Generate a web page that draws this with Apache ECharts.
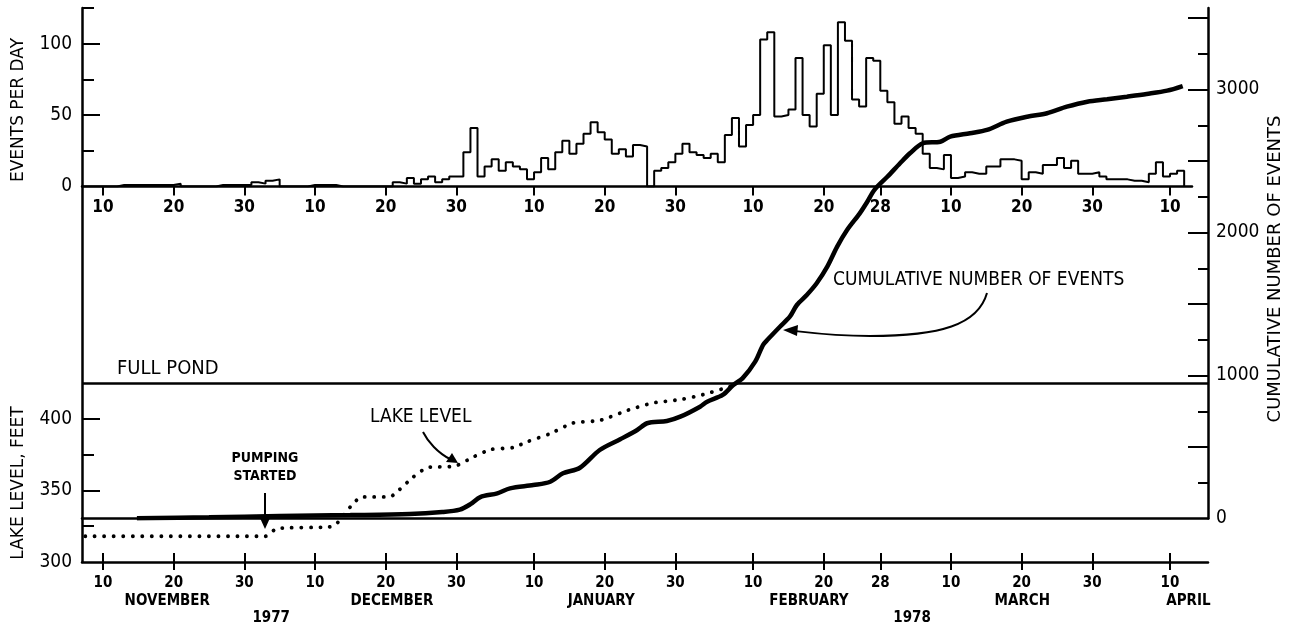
<!DOCTYPE html>
<html>
<head>
<meta charset="utf-8">
<script src="https://cdn.jsdelivr.net/npm/echarts@6/dist/echarts.min.js"></script>
<style>
html,body{margin:0;padding:0;background:#fff;}
#c{width:1292px;height:628px;}
</style>
</head>
<body>
<div id="c"></div>
<script>
// ---------------- DATA ----------------
// x unit: day number counted from Oct 31, 1977 (Nov 10 = 10, Dec 10 = 40, Jan 10 = 71, Feb 10 = 102, Mar 10 = 130, Apr 10 = 161)
const dayTicks      = [10, 20, 30, 40, 50, 60, 71, 81, 91, 102, 112, 120, 130, 140, 150, 161];
const dayTickLabels = ['10','20','30','10','20','30','10','20','30','10','20','28','10','20','30','10'];
const monthNames    = ['NOVEMBER','DECEMBER','JANUARY','FEBRUARY','MARCH','APRIL'];
const monthLabelDays= [19.1, 50.9, 80.5, 109.9, 140.1, 163.6];
const yearNames     = ['1977','1978'];
const yearLabelDays = [33.8, 124.5];

// Events per day (histogram), one value per day starting at histFirstDay
const histFirstDay = 7;
const histValues = [
  0,0,0,0,0,1,1,1,1,1,1,1,1,2,            // d7-20
  0,0,0,0,0,1,1,1,1,1,3,2,4,5,            // d21-34
  0,0,0,0,1,1,1,1,0,0,0,0,0,0,0,0,        // d35-50
  3,2,6,2,5,7,3,5,7,7,                    // d51-60
  24,41,7,14,19,11,17,14,12,5,            // d61-70
  10,20,12,24,32,23,30,37,45,38,          // d71-80
  33,23,26,21,29,28,0,11,13,17,           // d81-90
  23,30,24,22,20,23,17,36,48,28,          // d91-100
  43,50,103,108,49,50,54,90,50,42,        // d101-110
  65,99,50,115,102,61,56,90,88,67,        // d111-120
  59,44,49,41,37,23,13,12,22,6,           // d121-130
  7,10,9,9,14,14,19,19,18,5,              // d131-140
  10,9,15,15,20,13,18,9,9,10,             // d141-150
  7,5,5,5,4,4,3,9,17,7,                   // d151-160
  9,11,0                                  // d161-163
];

// Lake level (feet)
const lakeDays   = [7.5, 33, 34.6, 42, 43.1, 45, 46.6, 50.6, 51.6, 53.9, 55.9, 59.8, 62.4, 64.8, 68, 70, 73.3, 76.5, 80.3, 84.2, 87.8, 91.7, 94.9, 98.3, 99.7];
const lakeLevels = [318, 318, 323.4, 324.5, 327, 338.5, 345.5, 345.5, 349, 359.4, 366, 367, 373.4, 378.6, 380, 384, 389.8, 397.2, 399, 406, 411.2, 413.6, 417, 422, 424.3];
const fullPondLevel = 425;

// Cumulative number of events
const cumDays = [14.8, 25, 35, 45, 53.4, 58, 60.5, 62, 63.4, 65.8, 67.6, 70.9, 73.3, 75.1, 77.5, 80.3, 83.2, 85.6, 87, 89.8, 91.7, 94.5, 95.5, 97.7, 99.2, 100.5, 102.3, 103.4, 104.1, 105.8, 107.2, 108.2, 109.6, 111, 112.5, 113.9, 115.3, 117.1, 118.1, 119.2, 121, 122.8, 124.2, 126, 128.5, 129.9, 132.7, 135.1, 137.9, 140.8, 143.6, 146.4, 149.3, 152.1, 154.9, 157.7, 160.6, 162.8];
const cumValues = [2, 8, 18, 24, 31, 45, 62, 100, 150, 176, 211, 234, 257, 316, 355, 479, 554, 619, 666, 682, 712, 782, 817, 864, 934, 980, 1097, 1213, 1253, 1341, 1411, 1493, 1563, 1645, 1761, 1901, 2017, 2134, 2210, 2300, 2390, 2484, 2554, 2624, 2635, 2670, 2694, 2717, 2775, 2810, 2834, 2880, 2915, 2932, 2950, 2969, 2992, 3024];

// Axis tick values
const eventsMajorTicks = [50, 100];
const eventsMinorTicks = [25, 75, 125];
const eventsLabels     = [0, 50, 100];
const lakeMajorTicks   = [350, 400];
const lakeMinorTicks   = [325, 375];
const lakeLabels       = [300, 350, 400];
const cumMajorTicks    = [500, 1000, 1500, 2000, 2500, 3000, 3500];
const cumMinorTicks    = [250, 750, 1250, 1750, 2250, 2750, 3250];
const cumLabels        = [0, 1000, 2000, 3000];

// ---------------- CHART ----------------
const NARROW = "'Liberation Sans Narrow','DejaVu Sans Condensed','Arial Narrow',sans-serif";
const WIDE = "'DejaVu Sans',sans-serif";
const BLACK = '#000';

function nearestLabel(vals, names){
  return function(v){
    let bi = 0, bd = Infinity;
    for (let i = 0; i < vals.length; i++){ const d = Math.abs(vals[i]-v); if (d < bd){bd = d; bi = i;} }
    return names[bi];
  };
}
const plain = v => String(v);

const X_MIN = 7.03, X_MAX_TOP = 164.11, X_MAX_BOT = 166.38;
const G_LEFT = 82;

const histData = histValues.map((v, i) => [histFirstDay + i, v]);
const lakeData = lakeDays.map((d, i) => [d, lakeLevels[i]]);
const cumData  = cumDays.map((d, i) => [d, cumValues[i]]);

const noSplit = {show:false};
function xBase(grid, max){
  return {type:'value', gridIndex:grid, position:'bottom', min:X_MIN, max:max, splitLine:noSplit};
}

const option = {
  animation:false,
  backgroundColor:'#fff',
  grid:[
    {left:G_LEFT, top:8, width:1110, height:178.5, containLabel:false, outerBoundsMode:'none'},
    {left:G_LEFT, top:8, width:1126, height:554, containLabel:false, outerBoundsMode:'none'},
    {left:G_LEFT, top:8, width:1126, height:510.5, containLabel:false, outerBoundsMode:'none'}
  ],
  xAxis:[
    Object.assign(xBase(0, X_MAX_TOP), {
      axisLine:{show:true, onZero:false, lineStyle:{color:BLACK, width:2.5}},
      axisTick:{show:true, inside:false, length:9, customValues:dayTicks, lineStyle:{color:BLACK, width:2}},
      axisLabel:{show:true, customValues:dayTicks, formatter:nearestLabel(dayTicks, dayTickLabels), margin:13,
                 color:BLACK, fontFamily:NARROW, fontWeight:'bold', fontSize:17}
    }),
    Object.assign(xBase(1, X_MAX_BOT), {
      axisLine:{show:true, onZero:false, lineStyle:{color:BLACK, width:2.5}},
      axisTick:{show:true, inside:true, length:9, customValues:dayTicks, lineStyle:{color:BLACK, width:2}},
      axisLabel:{show:true, customValues:dayTicks, formatter:nearestLabel(dayTicks, dayTickLabels), margin:14,
                 color:BLACK, fontFamily:NARROW, fontWeight:'bold', fontSize:15}
    }),
    Object.assign(xBase(2, X_MAX_BOT), {
      axisLine:{show:true, onZero:false, lineStyle:{color:BLACK, width:2.5}},
      axisTick:{show:false}, axisLabel:{show:false}
    }),
    Object.assign(xBase(1, X_MAX_BOT), {
      axisLine:{show:false},
      axisTick:{show:true, inside:false, length:8, customValues:dayTicks, lineStyle:{color:BLACK, width:2}},
      axisLabel:{show:true, customValues:monthLabelDays, formatter:nearestLabel(monthLabelDays, monthNames), margin:32,
                 color:BLACK, fontFamily:NARROW, fontWeight:'bold', fontSize:15}
    }),
    Object.assign(xBase(1, X_MAX_BOT), {
      axisLine:{show:false}, axisTick:{show:false},
      axisLabel:{show:true, customValues:yearLabelDays, formatter:nearestLabel(yearLabelDays, yearNames), margin:49,
                 color:BLACK, fontFamily:NARROW, fontWeight:'bold', fontSize:15}
    })
  ],
  yAxis:[
    {type:'value', gridIndex:0, position:'left', min:0, max:125, splitLine:noSplit,
     axisLine:{show:false},
     axisTick:{show:true, inside:true, length:18, customValues:eventsMajorTicks, lineStyle:{color:BLACK, width:2}},
     axisLabel:{show:true, customValues:eventsLabels, formatter:plain, margin:10, color:BLACK, fontFamily:NARROW, fontSize:19}},
    {type:'value', gridIndex:1, position:'left', min:300, max:687.4, splitLine:noSplit,
     axisLine:{show:true, onZero:false, lineStyle:{color:BLACK, width:2.5}},
     axisTick:{show:true, inside:true, length:18, customValues:lakeMajorTicks, lineStyle:{color:BLACK, width:2}},
     axisLabel:{show:true, customValues:lakeLabels, formatter:plain, margin:10, color:BLACK, fontFamily:NARROW, fontSize:19}},
    {type:'value', gridIndex:2, position:'right', min:0, max:3570, splitLine:noSplit,
     axisLine:{show:true, onZero:false, lineStyle:{color:BLACK, width:2.5}},
     axisTick:{show:true, inside:true, length:20, customValues:cumMajorTicks, lineStyle:{color:BLACK, width:2}},
     axisLabel:{show:true, customValues:cumLabels, formatter:plain, margin:8, color:BLACK, fontFamily:NARROW, fontSize:19}},
    {type:'value', gridIndex:0, position:'left', min:0, max:125, splitLine:noSplit, axisLine:{show:false}, axisLabel:{show:false},
     axisTick:{show:true, inside:true, length:12, customValues:eventsMinorTicks, lineStyle:{color:BLACK, width:2}}},
    {type:'value', gridIndex:1, position:'left', min:300, max:687.4, splitLine:noSplit, axisLine:{show:false}, axisLabel:{show:false},
     axisTick:{show:true, inside:true, length:12, customValues:lakeMinorTicks, lineStyle:{color:BLACK, width:2}}},
    {type:'value', gridIndex:2, position:'right', min:0, max:3570, splitLine:noSplit, axisLine:{show:false}, axisLabel:{show:false},
     axisTick:{show:true, inside:true, length:10, customValues:cumMinorTicks, lineStyle:{color:BLACK, width:2}}}
  ],
  series:[
    {name:'Events per day', type:'line', xAxisIndex:0, yAxisIndex:0, step:'end', data:histData,
     symbol:'none', lineStyle:{color:BLACK, width:2}, z:3},
    {name:'Lake level', type:'line', xAxisIndex:1, yAxisIndex:1, data:lakeData, smooth:0.2,
     symbol:'none', lineStyle:{color:BLACK, width:3.8, type:[0.1, 9.4], cap:'round'}, z:3,
     markLine:{silent:true, symbol:'none', data:[{yAxis:fullPondLevel}],
       lineStyle:{color:BLACK, width:2.5, type:'solid'},
       label:{show:true, position:'insideStartTop', formatter:'FULL POND', distance:[35, 4],
              color:BLACK, fontFamily:NARROW, fontSize:20}}},
    {name:'Cumulative number of events', type:'line', xAxisIndex:2, yAxisIndex:2, data:cumData, smooth:0.3,
     symbol:'none', lineStyle:{color:BLACK, width:4.5}, z:4}
  ],
  graphic:[
    {type:'text', x:19, y:110, rotation:Math.PI/2,
     style:{text:'EVENTS PER DAY', fill:BLACK, font:"17px "+WIDE, textAlign:'center', textVerticalAlign:'middle'}},
    {type:'text', x:19, y:483, rotation:Math.PI/2,
     style:{text:'LAKE LEVEL, FEET', fill:BLACK, font:"17px "+WIDE, textAlign:'center', textVerticalAlign:'middle'}},
    {type:'text', x:1275, y:269, rotation:Math.PI/2,
     style:{text:'CUMULATIVE NUMBER OF EVENTS', fill:BLACK, font:"18px "+WIDE, textAlign:'center', textVerticalAlign:'middle'}},
    {type:'text', x:833, y:280,
     style:{text:'CUMULATIVE NUMBER OF EVENTS', fill:BLACK, font:"19px "+NARROW, textAlign:'left', textVerticalAlign:'middle'}},
    {type:'text', x:370, y:417,
     style:{text:'LAKE LEVEL', fill:BLACK, font:"19px "+NARROW, textAlign:'left', textVerticalAlign:'middle'}},
    {type:'text', x:265, y:458,
     style:{text:'PUMPING', fill:BLACK, font:"bold 14px "+NARROW, textAlign:'center', textVerticalAlign:'middle'}},
    {type:'text', x:265, y:476,
     style:{text:'STARTED', fill:BLACK, font:"bold 14px "+NARROW, textAlign:'center', textVerticalAlign:'middle'}},
    // arrows
    {type:'bezierCurve', shape:{x1:987, y1:293, cpx1:978, cpy1:325, cpx2:940, cpy2:336, x2:870, y2:336},
     style:{stroke:BLACK, lineWidth:2, fill:null}},
    {type:'bezierCurve', shape:{x1:870, y1:336, cpx1:835, cpy1:336, cpx2:812, cpy2:333, x2:795, y2:331},
     style:{stroke:BLACK, lineWidth:2, fill:null}},
    {type:'polygon', shape:{points:[[783,330],[798,325],[797,336]]}, style:{fill:BLACK}},
    {type:'bezierCurve', shape:{x1:423, y1:432, cpx1:428, cpy1:442, cpx2:438, cpy2:453, x2:450, y2:459},
     style:{stroke:BLACK, lineWidth:2, fill:null}},
    {type:'polygon', shape:{points:[[458,463],[446,462],[452,453]]}, style:{fill:BLACK}},
    {type:'line', shape:{x1:265, y1:493, x2:265, y2:520}, style:{stroke:BLACK, lineWidth:2}},
    {type:'polygon', shape:{points:[[265,529],[260,518],[270,518]]}, style:{fill:BLACK}}
  ]
};

const chart = echarts.init(document.getElementById('c'), null, {renderer:'canvas'});
chart.setOption(option);
</script>
</body>
</html>
